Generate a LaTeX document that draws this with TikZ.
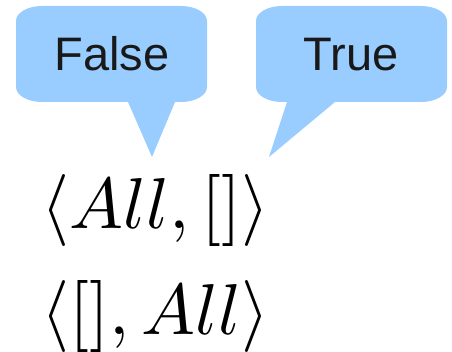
\documentclass[tikz,border=0pt]{standalone}
\usepackage{fontspec}
\usepackage{amsmath}
\usepackage{tikz}
\newfontfamily\bubblefont{Liberation Sans}
\definecolor{bubbleblue}{RGB}{153,204,255}
\tikzset{bubble/.style={fill=bubbleblue,draw=none},
  bubble text/.style={anchor=base,inner sep=0,text=black!90,font=\bubblefont\fontsize{47}{47}\selectfont},
  pair/.style={anchor=base west,inner sep=0,scale=7.2}}
\def\rx{26}
\def\ry{15}
% #1,#2 = left/right x, #3,#4 = bottom/top y, #5,#6 = tail base x, #7 = tip
\def\bubble#1#2#3#4#5#6#7{%
  \fill[bubble] (#1+\rx,#3) -- (#5,#3) -- (#7) -- (#6,#3) -- (#2-\rx,#3)
    arc[start angle=270,end angle=360,x radius=\rx,y radius=\ry]
    -- (#2,#4-\ry) arc[start angle=0,end angle=90,x radius=\rx,y radius=\ry]
    -- (#1+\rx,#4) arc[start angle=90,end angle=180,x radius=\rx,y radius=\ry]
    -- (#1,#3+\ry) arc[start angle=180,end angle=270,x radius=\rx,y radius=\ry]
    -- cycle;}
\begin{document}
\begin{tikzpicture}[x=1pt,y=1pt]
\useasboundingbox (0,0) rectangle (452,352);
% 吹き出しの先端
\coordinate (tipF) at (152,195);
\coordinate (tipT) at (269,195);
% 吹き出しの描画
\bubble{16}{207}{250}{346}{128}{175}{tipF}
\bubble{256}{447}{250}{346}{287}{335}{tipT}
% ラベルの描画
\node[bubble text] (false) at (112,281) {False};
\node[bubble text] (true) at (351,281) {True};
\node[pair] (pairA) at (40,123) {$\langle All, []\rangle$};
\node[pair] (pairB) at (40,17) {$\langle [], All\rangle$};
\end{tikzpicture}
\end{document}
